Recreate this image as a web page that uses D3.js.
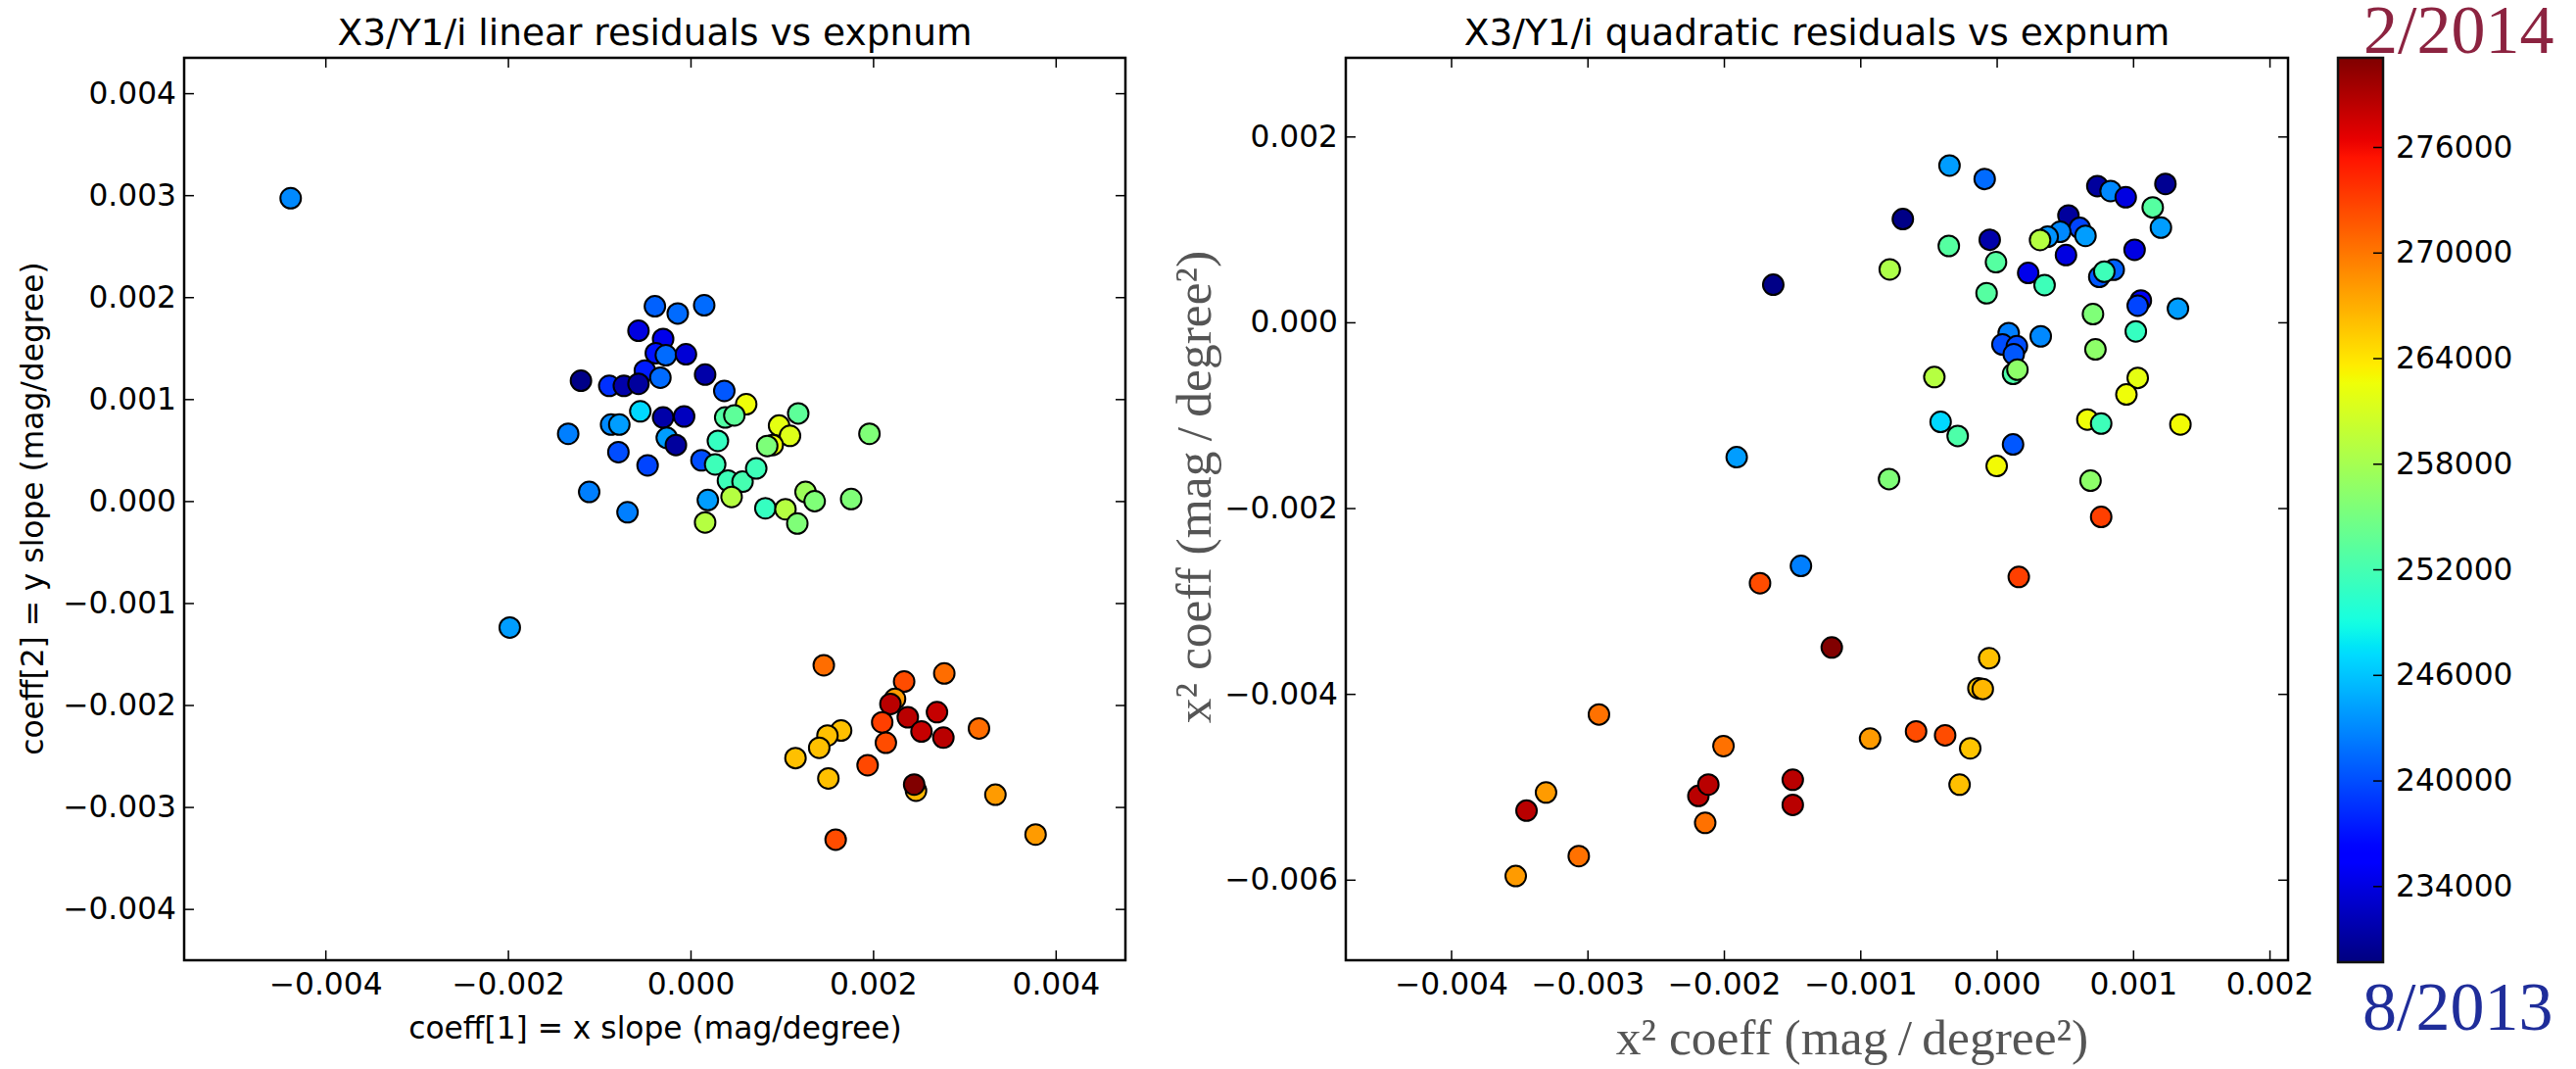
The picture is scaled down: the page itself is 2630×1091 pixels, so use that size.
<!DOCTYPE html>
<html>
<head>
<meta charset="utf-8">
<script src="https://cdn.jsdelivr.net/npm/d3@7"></script>
<style>
body { margin: 0; background: #fff; }
text { font-family: "DejaVu Sans", sans-serif; }
</style>
</head>
<body>
<div id="chart"></div>
<script>
// left panel: linear residual slopes, colored by exposure number
let linX = [-0.00438, -0.00198, -0.00039, -0.00014, 0.00015, -0.00057, -0.00030, -0.00038, -0.00027, -0.00005,
  -0.00050, -0.00033, 0.00016, -0.00120, -0.00089, -0.00073, -0.00057, 0.00037, 0.00061, -0.00134,
  -0.00087, -0.00078, -0.00055, -0.00030, -0.00007, -0.00026, -0.00016, -0.00079, -0.00047, 0.00012,
  0.00038, 0.00048, 0.00030, 0.00118, 0.00097, 0.00109, 0.00090, 0.00084, 0.00196, 0.00027,
  0.00041, 0.00057, 0.00072, 0.00045, -0.00111, -0.00069, 0.00019, 0.00016, 0.00082, 0.00104,
  0.00117, 0.00126, 0.00136, 0.00176, 0.00146, 0.00278, 0.00234, 0.00224, 0.00219, 0.00238,
  0.00270, 0.00210, 0.00253, 0.00277, 0.00316, 0.00165, 0.00150, 0.00141, 0.00115, 0.00214,
  0.00194, 0.00151, 0.00247, 0.00245, 0.00334, 0.00378, 0.00159];
let linY = [0.00297, -0.00124, 0.00191, 0.00184, 0.00192, 0.00167, 0.00159, 0.00145, 0.00143, 0.00144,
  0.00128, 0.00121, 0.00124, 0.00118, 0.00113, 0.00113, 0.00115, 0.00108, 0.00095, 0.00066,
  0.00075, 0.00075, 0.00088, 0.00082, 0.00083, 0.00062, 0.00055, 0.00048, 0.00035, 0.00040,
  0.00082, 0.00084, 0.00059, 0.00086, 0.00074, 0.00064, 0.00055, 0.00054, 0.00066, 0.00036,
  0.00020, 0.00019, 0.00032, 0.00004, 0.00009, -0.00011, 0.00001, -0.00021, -0.00007, -0.00008,
  -0.00022, 0.00009, 0.00000, 0.00002, -0.00161, -0.00169, -0.00177, -0.00194, -0.00199, -0.00212,
  -0.00207, -0.00217, -0.00226, -0.00232, -0.00223, -0.00225, -0.00230, -0.00242, -0.00252, -0.00237,
  -0.00259, -0.00272, -0.00284, -0.00278, -0.00288, -0.00327, -0.00332];
let linExp = [243000, 244000, 241000, 241500, 241500, 234000, 234500, 237000, 241500, 233500,
  237500, 241500, 231500, 230000, 238500, 231500, 231000, 240500, 262600, 242500,
  243000, 244000, 247000, 231500, 232500, 244000, 231000, 240000, 239500, 240000,
  252800, 253500, 251000, 253500, 262000, 261500, 262600, 255500, 255600, 251500,
  251500, 252000, 251500, 259000, 242500, 242500, 244000, 259000, 251000, 259000,
  255600, 257500, 255600, 255600, 270500, 270500, 272300, 268000, 278500, 278500,
  278000, 273000, 278000, 278500, 270500, 266000, 266000, 266000, 266000, 272300,
  272500, 266000, 266500, 281000, 268000, 268000, 272300];

// right panel: quadratic residual coefficients
let quadX = [-0.000346, -0.000088, 0.000738, 0.000835, 0.000946, 0.001237, 0.001144, 0.001204, -0.000688, 0.000526,
  0.000609, 0.000466, 0.000651, 0.000374, 0.000318, -0.000051, -0.000351, 0.000508, 0.001011, -0.000005,
  -0.000784, 0.000231, 0.000351, 0.000752, 0.000858, 0.000789, -0.001638, -0.000074, 0.001057, 0.001034,
  0.001329, 0.000706, 0.000088, 0.000042, 0.000148, 0.000125, 0.000323, 0.000120, 0.000152, 0.000724,
  0.001020, -0.000457, 0.001034, 0.000951, -0.000411, -0.000286, 0.000665, 0.000766, 0.001347, 0.000120,
  -0.001906, -0.000789, 0.000000, 0.000688, 0.000766, -0.001435, -0.001735, 0.000162, -0.001209, -0.000055,
  -0.000134, -0.000102, -0.002916, -0.002003, -0.000928, -0.000591, -0.000378, -0.000194, -0.000272, -0.003304,
  -0.003447, -0.002187, -0.002114, -0.001495, -0.001495, -0.002137, -0.003064, -0.003526];
let quadY = [0.001687, 0.001543, 0.001466, 0.001413, 0.001346, 0.001490, 0.001237, 0.001019, 0.001111, 0.001149,
  0.001016, 0.000974, 0.000931, 0.000921, 0.000886, 0.000889, 0.000822, 0.000724, 0.000780, 0.000647,
  0.000569, 0.000531, 0.000401, 0.000489, 0.000566, 0.000545, 0.000404, 0.000313, 0.000235, 0.000179,
  0.000148, 0.000088, -0.000116, -0.000239, -0.000257, -0.000344, -0.000151, -0.000555, -0.000510, -0.000292,
  -0.000098, -0.000590, -0.000598, -0.000777, -0.001072, -0.001223, -0.001047, -0.001090, -0.001100, -0.001315,
  -0.001452, -0.001687, -0.001547, -0.001705, -0.002095, -0.002622, -0.002808, -0.002741, -0.003500, -0.003616,
  -0.003940, -0.003947, -0.004221, -0.004562, -0.004481, -0.004403, -0.004446, -0.004586, -0.004977, -0.005061,
  -0.005257, -0.005099, -0.004976, -0.004924, -0.005194, -0.005388, -0.005746, -0.005961];
let quadExp = [244000, 241500, 231000, 243000, 234000, 230500, 253000, 244000, 230000, 231000,
  239500, 243000, 244000, 243500, 259000, 231500, 253000, 234000, 234000, 253000,
  258500, 234500, 251500, 240500, 241000, 251500, 230000, 253000, 235000, 239500,
  244000, 255600, 242500, 240000, 240000, 240500, 243000, 252500, 256500, 256500,
  251000, 259000, 262000, 262600, 247000, 252500, 262600, 251500, 262800, 240500,
  244000, 255600, 262800, 256500, 273000, 242500, 272300, 273000, 281000, 266000,
  266000, 266500, 270300, 270300, 268000, 272300, 272300, 265800, 266000, 268000,
  278500, 278500, 278500, 278500, 278500, 270300, 270300, 268000];

// tick labels
let linXTicks = [-0.004, -0.002, 0.000, 0.002, 0.004];
let linYTicks = [-0.004, -0.003, -0.002, -0.001, 0.000, 0.001, 0.002, 0.003, 0.004];
let quadXTicks = [-0.004, -0.003, -0.002, -0.001, 0.000, 0.001, 0.002];
let quadYTicks = [-0.006, -0.004, -0.002, 0.000, 0.002];
let cbTicks = [234000, 240000, 246000, 252000, 258000, 264000, 270000, 276000];
let expRange = [229674, 281067];

function buildPlot() {

let boxWidth = 2630;
let boxHeight = 1091;

let svg = d3.select("#chart")
    .append("svg")
    .attr("width", boxWidth)
    .attr("height", boxHeight)
    .style("display", "block");

// jet colormap, built from matplotlib's segment data
let jetR = d3.scaleLinear().domain([0, 0.35, 0.66, 0.89, 1]).range([0, 0, 1, 1, 0.5]).clamp(true);
let jetG = d3.scaleLinear().domain([0, 0.125, 0.375, 0.64, 0.91, 1]).range([0, 0, 1, 1, 0, 0]).clamp(true);
let jetB = d3.scaleLinear().domain([0, 0.11, 0.34, 0.65, 1]).range([0.5, 1, 1, 0, 0]).clamp(true);
let jet = t => d3.rgb(255 * jetR(t), 255 * jetG(t), 255 * jetB(t)).toString();
let tScale = d3.scaleLinear().domain(expRange).range([0, 1]).clamp(true);

let fmt = d3.format(".3f");

function styleAxis(g) {
    g.attr("font-size", null).attr("font-family", null);
    g.select(".domain").remove();
    g.selectAll(".tick line").attr("stroke", "#000").attr("stroke-width", 1.5);
    g.selectAll(".tick text").attr("fill", "#000").style("font-size", "31.3px");
}

//frame, ticks on all four sides pointing in
function drawAxes(x, y, xTicks, yTicks) {
    let [x0, x1] = x.range();
    let [y0, y1] = y.range();

    svg.append("g")
        .attr("transform", `translate(0, ${y0})`)
        .call(d3.axisBottom(x).tickValues(xTicks).tickFormat(fmt).tickSize(-10).tickPadding(13))
        .call(styleAxis);
    svg.append("g")
        .attr("transform", `translate(0, ${y1})`)
        .call(d3.axisTop(x).tickValues(xTicks).tickFormat("").tickSize(-10))
        .call(styleAxis);
    svg.append("g")
        .attr("transform", `translate(${x0}, 0)`)
        .call(d3.axisLeft(y).tickValues(yTicks).tickFormat(fmt).tickSize(-10).tickPadding(8))
        .call(styleAxis);
    svg.append("g")
        .attr("transform", `translate(${x1}, 0)`)
        .call(d3.axisRight(y).tickValues(yTicks).tickFormat("").tickSize(-10))
        .call(styleAxis);

    svg.append("rect")
        .attr("x", x0)
        .attr("y", y1)
        .attr("width", x1 - x0)
        .attr("height", y0 - y1)
        .attr("fill", "none")
        .attr("stroke", "#000")
        .attr("stroke-width", 2.5);
}

function drawPoints(x, y, xs, ys, exps) {
    svg.append("g")
        .selectAll("circle")
        .data(xs.map((d, i) => ({x: d, y: ys[i], e: exps[i]})))
        .enter()
        .append("circle")
        .attr("cx", d => x(d.x))
        .attr("cy", d => y(d.y))
        .attr("r", 10.5)
        .attr("fill", d => jet(tScale(d.e)))
        .attr("stroke", "#000")
        .attr("stroke-width", 2);
}

//left panel
let xLin = d3.scaleLinear().domain([-0.005547, 0.004764]).range([188, 1149]);
let yLin = d3.scaleLinear().domain([-0.004503, 0.004347]).range([980, 59]);
drawPoints(xLin, yLin, linX, linY, linExp);
drawAxes(xLin, yLin, linXTicks, linYTicks);

svg.append("text")
    .attr("x", 668.5).attr("y", 46)
    .attr("text-anchor", "middle")
    .style("font-size", "37.5px")
    .text("X3/Y1/i linear residuals vs expnum");

svg.append("text")
    .attr("x", 669).attr("y", 1060)
    .attr("text-anchor", "middle")
    .style("font-size", "31.3px")
    .text("coeff[1] = x slope (mag/degree)");

svg.append("text")
    .attr("transform", "translate(44, 519) rotate(-90)")
    .attr("text-anchor", "middle")
    .style("font-size", "31.3px")
    .text("coeff[2] = y slope (mag/degree)");

//right panel
let xQuad = d3.scaleLinear().domain([-0.004772, 0.002136]).range([1374, 2336]);
let yQuad = d3.scaleLinear().domain([-0.006867, 0.002847]).range([980, 59]);
drawPoints(xQuad, yQuad, quadX, quadY, quadExp);
drawAxes(xQuad, yQuad, quadXTicks, quadYTicks);

svg.append("text")
    .attr("x", 1855).attr("y", 46)
    .attr("text-anchor", "middle")
    .style("font-size", "37.5px")
    .text("X3/Y1/i quadratic residuals vs expnum");

svg.append("text")
    .attr("x", 1891).attr("y", 1076)
    .attr("text-anchor", "middle")
    .style("font-family", "'Liberation Serif', serif")
    .style("font-size", "51.5px")
    .attr("fill", "#555")
    .text("x\u00b2 coeff (mag\u2009/\u2009degree\u00b2)");

svg.append("text")
    .attr("transform", "translate(1236, 497) rotate(-90)")
    .attr("text-anchor", "middle")
    .style("font-family", "'Liberation Serif', serif")
    .style("font-size", "51.5px")
    .attr("fill", "#555")
    .text("x\u00b2 coeff (mag\u2009/\u2009degree\u00b2)");

//colorbar
let cbY = d3.scaleLinear().domain(expRange).range([982, 59]);
let grad = svg.append("defs").append("linearGradient")
    .attr("id", "jetgrad")
    .attr("x1", 0).attr("y1", 1).attr("x2", 0).attr("y2", 0);
grad.selectAll("stop")
    .data(d3.range(0, 1.0001, 0.01))
    .enter()
    .append("stop")
    .attr("offset", d => d)
    .attr("stop-color", d => jet(d));

svg.append("rect")
    .attr("x", 2387).attr("y", 59)
    .attr("width", 46).attr("height", 923)
    .attr("fill", "url(#jetgrad)");

svg.append("g")
    .attr("transform", "translate(2433, 0)")
    .call(d3.axisRight(cbY).tickValues(cbTicks).tickFormat(d3.format("d")).tickSize(-10).tickPadding(13))
    .call(styleAxis);

svg.append("rect")
    .attr("x", 2387).attr("y", 59)
    .attr("width", 46).attr("height", 923)
    .attr("fill", "none")
    .attr("stroke", "#111")
    .attr("stroke-width", 2.5);

svg.append("text")
    .attr("x", 2413).attr("y", 54)
    .style("font-family", "'Liberation Serif', serif")
    .style("font-size", "70px")
    .attr("fill", "#8c2340")
    .text("2/2014");

svg.append("text")
    .attr("x", 2412).attr("y", 1051)
    .style("font-family", "'Liberation Serif', serif")
    .style("font-size", "70px")
    .attr("fill", "#1f2d9a")
    .text("8/2013");
}

buildPlot();
</script>
</body>
</html>
